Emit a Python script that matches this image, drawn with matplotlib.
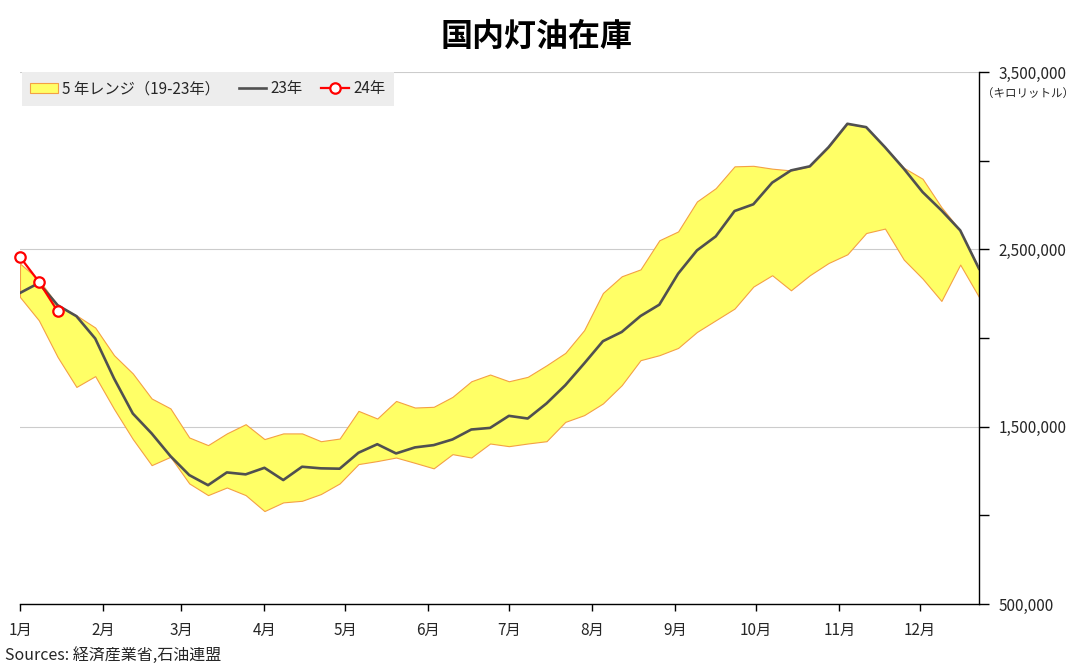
"""国内灯油在庫: 5年レンジ帯 + 23年/24年の週次推移."""
import numpy as np
import matplotlib
matplotlib.use('Agg')
import matplotlib.pyplot as plt
import matplotlib.ticker as mticker
from matplotlib.patches import Patch
from matplotlib.lines import Line2D

plt.rcParams.update({
    'font.family': ['Noto Sans CJK JP', 'DejaVu Sans'],
    'font.size': 11,
    'axes.linewidth': 1.0,
})

# 週番号 (1月第1週 = 0)
weeks = np.arange(52)

# 月の開始位置 (週単位, 2024年の通日 / 7)
month_start_day = [0, 31, 60, 91, 121, 152, 182, 213, 244, 274, 305, 335]
month_labels = ['1月', '2月', '3月', '4月', '5月', '6月',
                '7月', '8月', '9月', '10月', '11月', '12月']

# 5年レンジ (19-23年) 上限・下限, キロリットル
range_high = [2420000, 2329000, 2185000, 2128000, 2059000, 1903000, 1800000,
              1659000, 1603000, 1439000, 1396000, 1462000, 1514000, 1430000,
              1462000, 1462000, 1418000, 1433000, 1589000, 1546000, 1645000,
              1608000, 1612000, 1668000, 1756000, 1794000, 1756000, 1781000,
              1846000, 1916000, 2044000, 2254000, 2348000, 2387000, 2551000,
              2601000, 2770000, 2845000, 2968000, 2971000, 2955000, 2945000,
              2968000, 3076000, 3208000, 3189000, 3076000, 2960000, 2898000,
              2738000, 2607000, 2391000]
range_low = [2231000, 2100000, 1893000, 1724000, 1785000, 1600000, 1430000,
             1283000, 1330000, 1180000, 1114000, 1157000, 1114000, 1024000,
             1073000, 1082000, 1120000, 1180000, 1289000, 1306000, 1326000,
             1296000, 1265000, 1345000, 1326000, 1405000, 1390000, 1405000,
             1418000, 1527000, 1565000, 1631000, 1734000, 1875000, 1903000,
             1944000, 2034000, 2100000, 2166000, 2290000, 2354000, 2269000,
             2354000, 2423000, 2472000, 2592000, 2617000, 2442000, 2335000,
             2209000, 2414000, 2231000]

stock_2023 = [2254000, 2310000, 2185000, 2123000, 1997000, 1772000, 1574000,
              1462000, 1334000, 1227000, 1170000, 1242000, 1231000, 1268000,
              1199000, 1274000, 1265000, 1263000, 1353000, 1401000, 1349000,
              1383000, 1396000, 1428000, 1484000, 1493000, 1561000, 1546000,
              1631000, 1734000, 1856000, 1982000, 2034000, 2124000, 2188000,
              2363000, 2494000, 2573000, 2716000, 2754000, 2876000, 2945000,
              2968000, 3076000, 3208000, 3189000, 3076000, 2955000, 2823000,
              2720000, 2607000, 2391000]

stock_2024 = [2457000, 2318000, 2151000]

BAND_FACE = '#FFFF66'
BAND_EDGE = '#F4A044'
LINE_23 = '#505050'
LINE_24 = '#FF0000'
TEXT = '#262626'

fig = plt.figure(figsize=(10.74, 6.69), dpi=100)
ax = fig.add_axes([20 / 1074, 1 - 604 / 669, 959 / 1074, 532 / 669])

ax.fill_between(weeks, range_low, range_high, facecolor=BAND_FACE,
                edgecolor=BAND_EDGE, linewidth=0.8, zorder=2)
ax.plot(weeks, stock_2023, color=LINE_23, linewidth=1.9, zorder=3)
ax.plot(weeks[:len(stock_2024)], stock_2024, color=LINE_24, linewidth=1.6,
        marker='o', markersize=7.5, markerfacecolor='white',
        markeredgecolor=LINE_24, markeredgewidth=1.6, zorder=4, clip_on=False)

# x軸: 月
ax.set_xlim(0, weeks[-1])
ax.set_xticks([d / 7 for d in month_start_day])
ax.set_xticklabels(month_labels)
ax.tick_params(axis='x', direction='out', length=5, width=1.0,
               colors='black', labelcolor=TEXT, pad=8)

# y軸: 右側
ax.set_ylim(500000, 3500000)
ax.yaxis.tick_right()
ax.yaxis.set_major_locator(mticker.FixedLocator([500000, 1500000, 2500000, 3500000]))
ax.yaxis.set_minor_locator(mticker.FixedLocator([1000000, 2000000, 3000000]))
ax.yaxis.set_major_formatter(mticker.StrMethodFormatter('{x:,.0f}'))
ax.tick_params(axis='y', which='both', direction='out', length=7, width=1.0,
               colors='black', labelcolor=TEXT, pad=7)
ax.grid(axis='y', which='major', color='#CCCCCC', linewidth=0.8, zorder=0)
ax.set_axisbelow(True)

for side in ('left', 'top'):
    ax.spines[side].set_visible(False)

handles = [
    Patch(facecolor=BAND_FACE, edgecolor=BAND_EDGE, linewidth=0.8,
          label='5 年レンジ（19-23年）'),
    Line2D([], [], color=LINE_23, linewidth=1.9, label='23年'),
    Line2D([], [], color=LINE_24, linewidth=1.6, marker='o', markersize=7.5,
           markerfacecolor='white', markeredgecolor=LINE_24,
           markeredgewidth=1.6, label='24年'),
]
leg = ax.legend(handles=handles, loc='upper left', bbox_to_anchor=(0.002, 1.0),
                ncol=3, frameon=True, fancybox=False, facecolor='#EDEDED',
                edgecolor='none', framealpha=1.0, borderaxespad=0,
                borderpad=0.55, handlelength=1.8, handleheight=0.6,
                handletextpad=0.3, columnspacing=1.2, fontsize=11)
for t in leg.get_texts():
    t.set_color(TEXT)

fig.text(537 / 1074, 1 - 37 / 669, '国内灯油在庫', ha='center', va='center',
         fontsize=23, fontweight='bold', color='black')
fig.text(1028 / 1074, 1 - 93 / 669, '（キロリットル）', ha='center',
         va='center', fontsize=8.3, color=TEXT)
fig.text(5 / 1074, 1 - 655 / 669, 'Sources: 経済産業省,石油連盟', ha='left',
         va='center', fontsize=11.5, color=TEXT)

fig.savefig('out.png', dpi=100)
